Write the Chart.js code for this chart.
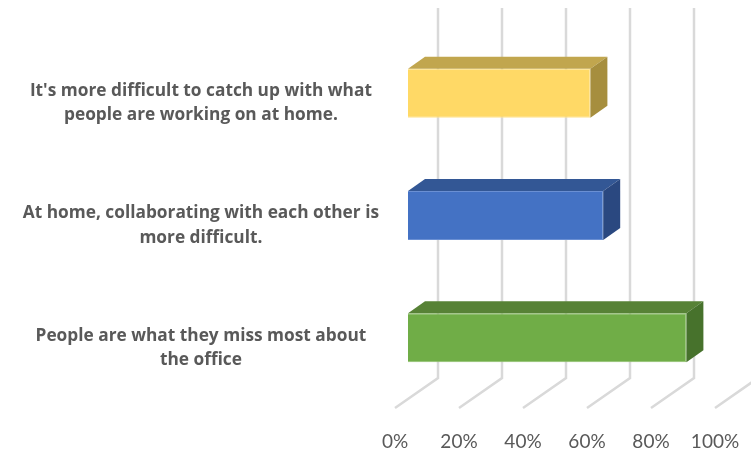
<!DOCTYPE html>
<html>
<head>
<meta charset="utf-8">
<script src="https://cdn.jsdelivr.net/npm/chart.js@4.4.1/dist/chart.umd.min.js"></script>
<style>
    body { margin: 0; background: #ffffff; }
    #wrap { width: 751px; height: 450px; }
</style>
</head>
<body>
<div id="wrap"><canvas id="chart" width="751" height="450"></canvas></div>
<script>
// Chart data
const categories = [
    ["It's more difficult to catch up with what", "people are working on at home."],
    ["At home, collaborating with each other is", "more difficult."],
    ["People are what they miss most about", "the office"]
];
const values = [57, 61, 87];
const tickValues = [0, 20, 40, 60, 80, 100];

const frontColors = ["#FFD966", "#4472C4", "#70AD47"];
const edgeColors = ["#FFE38F", "#6A8FD3", "#8DC06A"];
const topColors = ["#C1A64E", "#335795", "#578236"];
const sideColors = ["#A68E3E", "#2A4880", "#47722C"];

// depth of the 3d look (px)
const BAR_DX = 17, BAR_DY = 12;
const WALL_DX = 30, FLOOR_FRONT_DX = -13, FLOOR_FRONT_DY = 9, FLOOR_BACK_DY = -21;

const gridPlugin = {
    id: "grid3d",
    beforeDatasetsDraw(chart) {
        const ctx = chart.ctx;
        const xs = chart.scales.x;
        const bottom = chart.chartArea.bottom;
        ctx.save();
        ctx.strokeStyle = "#d9d9d9";
        ctx.lineWidth = 2.5;
        tickValues.forEach(v => {
            const px = xs.getPixelForValue(v);
            // back wall line
            ctx.beginPath();
            ctx.moveTo(px + WALL_DX, 8);
            ctx.lineTo(px + WALL_DX, bottom + FLOOR_BACK_DY);
            // floor line
            ctx.lineTo(px + FLOOR_FRONT_DX, bottom + FLOOR_FRONT_DY);
            ctx.stroke();
        });
        ctx.restore();
    },
    afterDatasetsDraw(chart) {
        const ctx = chart.ctx;
        const meta = chart.getDatasetMeta(0);
        ctx.save();
        meta.data.forEach((bar, i) => {
            const p = bar.getProps(["x", "y", "base", "height"], true);
            const left = p.base, right = p.x;
            const top = p.y - p.height / 2, bot = p.y + p.height / 2;

            // top face
            ctx.fillStyle = topColors[i];
            ctx.beginPath();
            ctx.moveTo(left, top);
            ctx.lineTo(right, top);
            ctx.lineTo(right + BAR_DX, top - BAR_DY);
            ctx.lineTo(left + BAR_DX, top - BAR_DY);
            ctx.closePath();
            ctx.fill();

            // side face
            ctx.fillStyle = sideColors[i];
            ctx.beginPath();
            ctx.moveTo(right, top);
            ctx.lineTo(right + BAR_DX, top - BAR_DY);
            ctx.lineTo(right + BAR_DX, bot - BAR_DY);
            ctx.lineTo(right, bot);
            ctx.closePath();
            ctx.fill();
        });
        ctx.restore();
    }
};

new Chart(document.getElementById("chart"), {
    type: "bar",
    data: {
        labels: categories,
        datasets: [{
            data: values,
            backgroundColor: frontColors,
            borderColor: edgeColors,
            borderWidth: 1,
            categoryPercentage: 1,
            barPercentage: 0.4
        }]
    },
    options: {
        indexAxis: "y",
        responsive: false,
        animation: false,
        layout: { padding: { left: 0, right: 23, top: 32, bottom: 0 } },
        plugins: {
            legend: { display: false },
            tooltip: { enabled: false }
        },
        scales: {
            x: {
                min: 0,
                max: 100,
                grid: { display: false },
                border: { display: false },
                afterFit: s => {
                    s.height = 51;
                    // no extra room for the end labels
                    s.paddingLeft = 0;
                    s.paddingRight = 0;
                },
                ticks: {
                    stepSize: 20,
                    callback: v => v + "%",
                    color: "#595959",
                    font: { family: "Lato", size: 19 },
                    padding: 23,
                    labelOffset: -13,
                    maxRotation: 0
                }
            },
            y: {
                grid: { display: false, drawTicks: false },
                border: { display: false },
                afterFit: s => {
                    s.width = 408;
                    s.paddingTop = 0;
                    s.paddingBottom = 0;
                },
                ticks: {
                    color: "#595959",
                    font: { family: "Open Sans", size: 17.3, weight: "bold", lineHeight: 1.4 },
                    crossAlign: "center",
                    padding: 29,
                    labelOffset: 10
                }
            }
        }
    },
    plugins: [gridPlugin]
});
</script>
</body>
</html>
